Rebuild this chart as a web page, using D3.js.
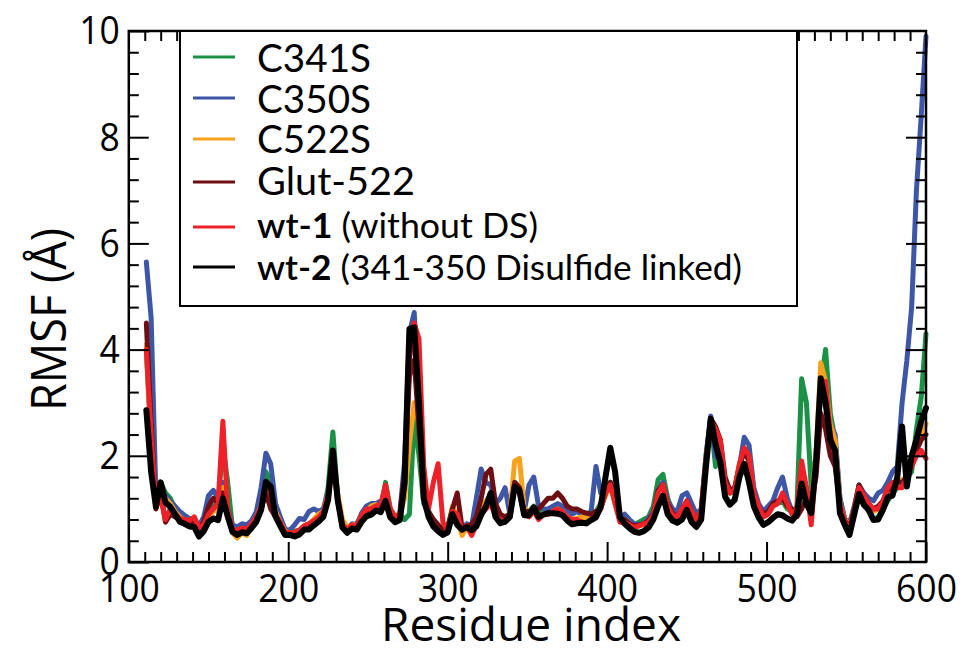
<!DOCTYPE html>
<html>
<head>
<meta charset="utf-8">
<script src="https://cdn.jsdelivr.net/npm/d3@7"></script>
<style>
  body { margin: 0; background: #fff; }
  svg { display: block; }
</style>
</head>
<body>
<svg id="chart" width="962" height="652"></svg>
<script>
// Residue positions sampled along the chain
const residues = [
  111,114,117,120,123,126,129,132,135,138,
  141,144,147,150,153,156,159,162,165,168,
  171,174,177,180,183,186,189,192,195,198,
  201,204,207,210,213,216,219,222,225,228,
  231,234,237,240,243,246,249,252,255,258,
  261,264,267,270,273,276,279,282,285,288,
  291,294,297,300,303,306,309,312,315,318,
  321,324,327,330,333,336,339,342,345,348,
  351,354,357,360,363,366,369,372,375,378,
  381,384,387,390,393,396,399,402,405,408,
  411,414,417,420,423,426,429,432,435,438,
  441,444,447,450,453,456,459,462,465,468,
  471,474,477,480,483,486,489,492,495,498,
  501,504,507,510,513,516,519,522,525,528,
  531,534,537,540,543,546,549,552,555,558,
  561,564,567,570,573,576,579,582,585,588,
  591,594,597,600
];

// RMSF (Å) per residue for each simulation
const rmsfC341S = [
  4.0,2.2,1.2,1.5,1.3,1.2,1.0,0.9,0.85,0.8,
  0.78,0.7,0.72,0.95,1.05,1.1,2.2,1.5,0.65,0.62,
  0.66,0.64,0.74,0.85,1.1,1.7,1.5,1.0,0.8,0.6,
  0.58,0.58,0.6,0.68,0.72,0.78,0.85,0.95,1.4,2.45,
  1.2,0.75,0.65,0.7,0.72,0.88,0.95,1.0,1.05,1.0,
  1.5,1.0,0.85,0.9,0.8,0.9,2.7,2.0,1.1,0.9,
  0.75,0.65,0.6,0.62,1.0,0.8,0.6,0.7,0.65,0.8,
  1.0,1.1,1.2,0.95,0.85,0.85,0.9,1.5,1.4,0.9,
  0.95,1.05,0.9,0.95,0.95,0.95,0.95,0.9,0.8,0.75,
  0.78,0.8,0.8,0.85,0.95,1.1,1.3,1.5,1.2,0.8,
  0.85,0.75,0.7,0.75,0.8,0.85,1.05,1.55,1.65,1.2,
  0.95,0.9,1.0,1.1,1.0,0.82,0.95,2.0,2.7,1.8,
  2.0,1.5,1.3,1.35,1.8,2.1,1.9,1.3,1.05,0.9,
  0.95,1.1,1.1,1.15,1.0,0.95,1.0,3.45,3.0,1.4,
  2.0,3.3,4.0,2.8,2.3,1.2,0.8,0.7,1.0,1.4,
  1.2,1.0,0.8,0.85,1.0,1.15,1.3,1.4,1.5,1.6,
  1.7,2.5,3.1,4.3
];
const rmsfC350S = [
  5.65,4.6,1.25,1.35,1.25,1.15,1.05,0.95,0.88,0.82,
  0.8,0.68,0.85,1.25,1.35,1.2,1.5,1.0,0.7,0.66,
  0.72,0.7,0.78,0.95,1.4,2.05,1.85,1.1,0.85,0.62,
  0.6,0.7,0.82,0.8,0.95,1.0,0.95,1.0,1.3,2.0,
  1.25,0.72,0.62,0.72,0.7,0.92,1.05,1.1,1.1,1.15,
  1.2,0.95,0.85,0.92,1.9,4.3,4.7,3.0,1.4,0.95,
  0.8,0.7,0.6,0.62,1.0,0.75,0.6,0.72,0.68,1.2,
  1.75,1.5,1.45,1.1,1.2,1.4,0.9,1.5,1.4,0.95,
  1.45,1.6,1.05,1.0,1.0,1.05,1.1,1.05,0.95,0.9,
  0.95,0.9,0.9,0.95,1.8,1.3,1.3,1.5,1.2,0.82,
  0.9,0.8,0.72,0.7,0.72,0.82,0.95,1.35,1.5,1.15,
  1.0,0.95,1.25,1.3,1.1,0.9,1.0,2.0,2.75,2.0,
  1.9,1.5,1.3,1.35,1.8,2.35,2.2,1.4,1.1,0.95,
  1.05,1.15,1.4,1.6,1.2,0.95,1.0,1.5,1.4,1.1,
  1.9,3.2,3.2,2.6,2.4,1.2,0.82,0.72,1.05,1.45,
  1.3,1.2,1.15,1.3,1.35,1.5,1.7,1.8,3.0,3.8,
  4.8,7.0,8.4,9.9
];
const rmsfC522S = [
  4.1,2.3,1.0,1.3,1.2,1.1,0.95,0.85,0.78,0.75,
  0.72,0.5,0.6,0.85,0.95,1.0,1.4,0.9,0.55,0.45,
  0.55,0.5,0.7,0.85,1.05,1.5,1.4,0.95,0.75,0.58,
  0.55,0.55,0.58,0.66,0.72,0.8,0.9,0.95,1.25,1.9,
  1.3,0.8,0.65,0.7,0.7,0.85,0.95,1.05,1.08,1.0,
  1.15,0.95,0.85,0.9,1.2,2.2,3.0,2.6,1.2,0.9,
  0.75,0.65,0.55,0.62,1.05,0.85,0.5,0.65,0.6,0.75,
  1.0,1.15,1.25,0.95,0.85,0.85,0.9,1.9,1.95,1.0,
  0.95,1.0,0.85,0.9,0.9,0.95,1.0,0.95,0.85,0.8,
  0.82,0.85,0.82,0.85,0.95,1.05,1.25,1.45,1.1,0.8,
  0.8,0.72,0.65,0.68,0.7,0.75,0.9,1.3,1.45,1.1,
  0.9,0.85,1.0,1.1,0.95,0.82,0.95,1.95,2.65,2.4,
  2.1,1.5,1.3,1.4,1.85,2.1,1.95,1.3,1.05,0.85,
  0.9,1.05,1.15,1.2,1.05,0.95,0.95,1.4,1.3,1.1,
  2.0,3.75,3.4,2.6,2.3,1.1,0.8,0.68,1.0,1.4,
  1.2,1.05,0.95,1.0,1.1,1.3,1.35,1.45,1.55,1.6,
  1.9,2.2,2.4,2.6
];
const rmsfGlut522 = [
  4.5,2.6,1.0,1.3,0.75,0.9,0.85,0.8,0.75,0.72,
  0.8,0.62,0.75,1.05,1.2,1.1,1.3,0.9,0.6,0.58,
  0.62,0.6,0.7,0.85,1.0,1.3,1.0,0.85,0.7,0.56,
  0.55,0.55,0.58,0.65,0.7,0.75,0.8,0.9,1.2,1.9,
  1.15,0.68,0.6,0.68,0.7,0.86,0.95,1.0,1.05,1.05,
  1.25,0.95,0.85,0.88,1.7,3.5,3.8,2.5,1.3,0.95,
  0.8,0.7,0.6,0.65,1.0,1.3,0.65,0.68,0.7,0.85,
  1.2,1.65,1.75,1.1,0.9,0.85,0.9,1.5,1.4,0.95,
  0.95,1.0,1.0,1.1,1.2,1.2,1.3,1.2,1.05,1.0,
  1.0,0.95,0.92,0.9,0.95,1.0,1.3,1.5,1.2,0.8,
  0.8,0.72,0.68,0.7,0.72,0.78,0.92,1.35,1.45,1.1,
  0.92,0.85,1.0,1.15,0.95,0.82,0.95,1.9,2.7,2.55,
  2.3,1.6,1.35,1.4,1.8,2.1,1.9,1.3,1.05,0.9,
  0.95,1.1,1.15,1.2,1.05,1.0,0.85,1.0,1.2,1.1,
  1.6,2.8,2.5,2.0,1.8,1.05,0.78,0.65,1.0,1.45,
  1.25,1.1,1.0,1.05,1.15,1.35,1.4,1.5,1.5,1.6,
  1.9,2.1,2.3,2.4
];
const rmsfWt1 = [
  4.0,2.4,1.05,1.2,0.8,1.0,0.9,0.82,0.8,0.78,
  0.85,0.65,0.7,0.9,1.0,1.1,2.65,1.0,0.62,0.6,
  0.64,0.62,0.72,0.85,1.05,1.45,1.3,0.9,0.75,0.56,
  0.55,0.56,0.6,0.68,0.72,0.78,0.84,0.95,1.25,1.95,
  1.2,0.7,0.62,0.7,0.68,0.88,1.0,1.0,1.05,1.08,
  1.45,1.0,0.85,0.9,1.5,3.8,4.5,4.2,1.8,1.0,
  1.5,1.85,0.75,0.6,0.95,0.9,0.6,0.68,0.5,0.7,
  0.9,1.0,1.1,0.85,0.8,0.75,0.85,1.4,1.3,0.9,
  0.85,0.95,0.8,0.9,0.9,0.95,1.0,0.95,0.85,0.8,
  0.8,0.75,0.72,0.8,0.85,1.0,1.3,1.45,1.1,0.75,
  0.75,0.7,0.65,0.68,0.72,0.75,0.9,1.3,1.45,1.05,
  0.88,0.85,1.0,1.15,0.95,0.8,0.95,1.9,2.65,2.5,
  2.3,1.5,1.3,1.35,1.85,2.15,2.0,1.3,1.05,0.85,
  0.9,1.05,1.1,1.3,1.1,0.9,1.0,1.9,1.4,0.7,
  1.8,3.3,3.4,2.4,2.0,1.1,0.75,0.62,0.95,1.4,
  1.25,1.1,1.0,1.0,1.15,1.4,1.5,1.4,1.4,1.6,
  1.8,2.0,2.1,1.95
];
const rmsfWt2 = [
  2.86,1.7,1.04,1.5,1.12,1.04,0.9,0.76,0.72,0.67,
  0.66,0.48,0.58,0.76,0.82,0.79,1.2,0.86,0.57,0.51,
  0.56,0.54,0.64,0.76,0.98,1.51,1.42,0.86,0.68,0.51,
  0.51,0.48,0.52,0.61,0.61,0.69,0.76,0.85,1.17,2.1,
  1.17,0.65,0.55,0.63,0.61,0.76,0.86,0.89,0.97,0.94,
  1.15,0.84,0.75,0.79,1.5,4.39,4.42,3.0,1.2,0.85,
  0.67,0.58,0.51,0.56,0.9,0.7,0.61,0.66,0.6,0.67,
  0.89,1.05,1.3,0.85,0.73,0.76,0.85,1.42,1.35,0.88,
  0.88,1.03,0.85,0.89,0.92,0.92,0.91,0.88,0.78,0.71,
  0.73,0.74,0.73,0.79,0.84,1.05,1.6,2.15,1.7,0.85,
  0.72,0.64,0.57,0.55,0.58,0.65,0.8,1.05,1.25,0.9,
  0.78,0.74,0.8,0.98,0.75,0.66,0.8,1.8,2.7,2.22,
  1.88,1.23,1.08,1.17,1.6,1.85,1.5,1.05,0.84,0.7,
  0.75,0.83,0.9,0.88,0.82,0.78,0.9,1.48,1.1,0.92,
  1.85,3.46,3.0,2.3,2.1,0.92,0.7,0.51,0.9,1.28,
  1.08,0.98,0.79,0.8,0.98,1.22,1.25,1.6,2.55,1.42,
  2.0,2.3,2.65,2.9
];

const seriesNames = ["C341S", "C350S", "C522S", "Glut-522",
  "wt-1 (without DS)", "wt-2 (341-350 Disulfide linked)"];
const seriesColors = ["#1b9146", "#3d56a6", "#f7a21b", "#6d0f12", "#ee2128", "#000000"];
const seriesValues = [rmsfC341S, rmsfC350S, rmsfC522S, rmsfGlut522, rmsfWt1, rmsfWt2];

const xTickLabels = [100, 200, 300, 400, 500, 600];
const yTickLabels = [0, 2, 4, 6, 8, 10];

const svg = d3.select("#chart");
const W = 962, H = 652;
const plot = { left: 128.8, right: 926, top: 31, bottom: 562 };

const x = d3.scaleLinear().domain([100, 600]).range([plot.left, plot.right]);
const y = d3.scaleLinear().domain([0, 10]).range([plot.bottom, plot.top]);

svg.append("rect").attr("width", W).attr("height", H).attr("fill", "#fff");

// RMSF traces, wt-2 drawn last on top
const line = d3.line()
  .x((d, i) => x(residues[i]))
  .y(d => y(d));

const traces = svg.append("g").attr("class", "traces");
seriesValues.forEach((vals, k) => {
  traces.append("path")
    .attr("d", line(vals))
    .attr("fill", "none")
    .attr("stroke", seriesColors[k])
    .attr("stroke-width", k === 5 ? 6 : 5)
    .attr("stroke-linejoin", "round")
    .attr("stroke-linecap", "round");
});

// Tick positions
const xMinor = d3.range(110, 600, 10).filter(v => v % 100 !== 0);
const xAll = d3.range(110, 600, 10);
const yMinor = d3.range(1, 25).filter(k => k % 5 !== 0).map(k => k * 0.4);
const yMajorInner = [2, 4, 6, 8];

function styleAxis(g) {
  g.select(".domain").remove();
  g.selectAll(".tick line").attr("stroke", "#000").attr("stroke-width", 2);
}

// bottom axis
svg.append("g").attr("transform", `translate(0,${plot.bottom})`)
  .call(d3.axisBottom(x).tickValues(xMinor).tickSize(-10).tickFormat(""))
  .call(styleAxis);
const xLab = svg.append("g").attr("transform", `translate(0,${plot.bottom})`)
  .call(d3.axisBottom(x).tickValues(xTickLabels).tickSize(-20).tickPadding(13).tickFormat(d3.format("d")))
  .call(styleAxis);
xLab.attr("font-family", null).attr("font-size", null);
xLab.selectAll("text")
  .attr("font-family", "'Open Sans', 'Noto Sans', sans-serif")
  .attr("font-size", 38)
  .attr("fill", "#000")
  .attr("textLength", d => String(d).length * 20.3)
  .attr("lengthAdjust", "spacingAndGlyphs");

// top axis
svg.append("g").attr("transform", `translate(0,${plot.top})`)
  .call(d3.axisTop(x).tickValues(xAll).tickSize(-10).tickFormat(""))
  .call(styleAxis);

// left axis
svg.append("g").attr("transform", `translate(${plot.left},0)`)
  .call(d3.axisLeft(y).tickValues(yMinor).tickSize(-10).tickFormat(""))
  .call(styleAxis);
const yLab = svg.append("g").attr("transform", `translate(${plot.left},0)`)
  .call(d3.axisLeft(y).tickValues(yTickLabels).tickSize(-20).tickPadding(9).tickFormat(d3.format("d")))
  .call(styleAxis);
yLab.attr("font-family", null).attr("font-size", null);
yLab.selectAll("text")
  .attr("font-family", "'Open Sans', 'Noto Sans', sans-serif")
  .attr("font-size", 38)
  .attr("fill", "#000")
  .attr("dy", "0.34em")
  .attr("textLength", d => String(d).length * 20.3)
  .attr("lengthAdjust", "spacingAndGlyphs");

// right axis
svg.append("g").attr("transform", `translate(${plot.right},0)`)
  .call(d3.axisRight(y).tickValues(yMinor).tickSize(-10).tickFormat(""))
  .call(styleAxis);
svg.append("g").attr("transform", `translate(${plot.right},0)`)
  .call(d3.axisRight(y).tickValues(yMajorInner).tickSize(-20).tickFormat(""))
  .call(styleAxis);

// frame
svg.append("rect")
  .attr("x", plot.left).attr("y", plot.top)
  .attr("width", plot.right - plot.left).attr("height", plot.bottom - plot.top)
  .attr("fill", "none").attr("stroke", "#000").attr("stroke-width", 2.5);

// axis titles
svg.append("text")
  .attr("x", 381).attr("y", 641)
  .attr("font-family", "'Open Sans', 'Noto Sans', sans-serif")
  .attr("font-size", 46)
  .attr("textLength", 300).attr("lengthAdjust", "spacingAndGlyphs")
  .text("Residue index");

svg.append("text")
  .attr("transform", "translate(66,411) rotate(-90)")
  .attr("font-family", "'Open Sans', 'Noto Sans', sans-serif")
  .attr("font-size", 50)
  .attr("textLength", 183).attr("lengthAdjust", "spacingAndGlyphs")
  .text("RMSF (Å)");

// legend
const legend = svg.append("g").attr("class", "legend");
legend.append("rect")
  .attr("x", 180).attr("y", 31).attr("width", 617).attr("height", 275)
  .attr("fill", "#fff").attr("stroke", "#000").attr("stroke-width", 2);

const rowLineY = [57, 98, 139, 182, 227, 267];
const rowTextY = [72, 113, 153, 195, 238, 280];
const rowWidth = [114, 114, 114, 158, 281, 485];

seriesNames.forEach((name, k) => {
  legend.append("line")
    .attr("x1", 193).attr("x2", 235)
    .attr("y1", rowLineY[k]).attr("y2", rowLineY[k])
    .attr("stroke", seriesColors[k]).attr("stroke-width", 3);
  const t = legend.append("text")
    .attr("x", 257).attr("y", rowTextY[k])
    .attr("font-family", "Lato, 'Open Sans', sans-serif")
    .attr("font-size", k < 4 ? 38 : 34)
    .attr("fill", "#000")
    .attr("textLength", rowWidth[k]).attr("lengthAdjust", "spacingAndGlyphs");
  const m = name.match(/^(wt-)(\d)(.*)$/);
  if (m) {
    t.append("tspan").attr("font-weight", 600).text(m[1]);
    t.append("tspan").attr("font-weight", 700).text(m[2]);
    t.append("tspan").text(m[3]);
  } else {
    t.text(name);
  }
});
</script>
</body>
</html>
